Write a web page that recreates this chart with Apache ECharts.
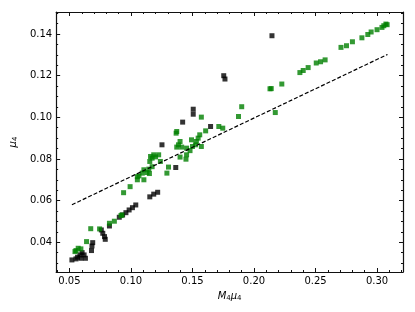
<!DOCTYPE html>
<html>
<head>
<meta charset="utf-8">
<script src="https://cdn.jsdelivr.net/npm/echarts@6/dist/echarts.min.js"></script>
<style>
html, body { margin: 0; padding: 0; background: #fff; }
#chart { width: 415px; height: 312px; }
</style>
</head>
<body>
<div id="chart"></div>
<script>
// black squares
const blackX = [0.052, 0.0566, 0.0585, 0.0603, 0.0619, 0.063, 0.0593, 0.0553, 0.0679, 0.0683, 0.0689,
    0.0759, 0.0771, 0.0785, 0.0791, 0.0825, 0.0905, 0.0932, 0.0959, 0.0985, 0.1012, 0.1039,
    0.1153, 0.1185, 0.1217, 0.1252, 0.1364, 0.142, 0.1506, 0.1506, 0.1647, 0.1754, 0.1764, 0.2146]
const blackY = [0.0315, 0.0328, 0.0339, 0.035, 0.0339, 0.0323, 0.0323, 0.032, 0.036, 0.0382, 0.0398,
    0.0459, 0.0443, 0.0427, 0.0414, 0.0478, 0.052, 0.0531, 0.0542, 0.0555, 0.0566, 0.0579,
    0.0618, 0.0631, 0.064, 0.0868, 0.0759, 0.0977, 0.1039, 0.1015, 0.0956, 0.12, 0.1184, 0.1392]

// green squares
const greenX = [0.0545, 0.0571, 0.0553, 0.0593, 0.0639, 0.0673, 0.0745, 0.0825, 0.0865, 0.0919, 0.0927,
    0.094, 0.0993, 0.1052, 0.1092, 0.1065, 0.1105, 0.1105, 0.1052, 0.1145, 0.1172, 0.1153, 0.1159,
    0.1185, 0.1225, 0.1172, 0.1239, 0.1305, 0.1292, 0.1372, 0.1367, 0.1399, 0.1386, 0.1372, 0.1412,
    0.1452, 0.1492, 0.1532, 0.1546, 0.1524, 0.1452, 0.1399, 0.1447, 0.1572, 0.1559, 0.1572, 0.1607,
    0.1714, 0.1746, 0.1874, 0.19, 0.214, 0.2173, 0.2226, 0.2373, 0.24, 0.244, 0.2506, 0.2541, 0.2578,
    0.2707, 0.2752, 0.28, 0.2877, 0.2925, 0.2952, 0.3, 0.304, 0.3072, 0.3082, 0.3055, 0.213,
    0.113, 0.115, 0.12, 0.148, 0.15]
const greenY = [0.0355, 0.0371, 0.036, 0.0368, 0.0403, 0.0465, 0.0464, 0.0491, 0.0501, 0.0528, 0.0531,
    0.0638, 0.0667, 0.0715, 0.0732, 0.0719, 0.0748, 0.07, 0.07, 0.0751, 0.0763, 0.0788, 0.0812,
    0.082, 0.082, 0.0804, 0.0788, 0.0761, 0.0732, 0.0932, 0.0924, 0.0884, 0.0868, 0.0857, 0.0857,
    0.0852, 0.0892, 0.0884, 0.09, 0.0868, 0.082, 0.0809, 0.0799, 0.086, 0.0916, 0.1001, 0.0935,
    0.0956, 0.0948, 0.1004, 0.1051, 0.1138, 0.1023, 0.116, 0.1215, 0.1225, 0.1239, 0.1261, 0.1267, 0.1276,
    0.1336, 0.1344, 0.1363, 0.1382, 0.1398, 0.141, 0.1421, 0.1432, 0.1448, 0.1445, 0.144, 0.1137,
    0.0735, 0.073, 0.081, 0.084, 0.086]

// dashed reference line
const fitX = [0.052, 0.3085]
const fitY = [0.058, 0.1302]

const xTicks = [0.05, 0.10, 0.15, 0.20, 0.25, 0.30]
const yTicks = [0.04, 0.06, 0.08, 0.10, 0.12, 0.14]
const xMinor = [0.04, 0.05, 0.06, 0.07, 0.08, 0.09, 0.10, 0.11, 0.12, 0.13, 0.14, 0.15, 0.16, 0.17,
    0.18, 0.19, 0.20, 0.21, 0.22, 0.23, 0.24, 0.25, 0.26, 0.27, 0.28, 0.29, 0.30, 0.31, 0.32]
const yMinor = [0.03, 0.035, 0.04, 0.045, 0.05, 0.055, 0.06, 0.065, 0.07, 0.075, 0.08, 0.085, 0.09,
    0.095, 0.10, 0.105, 0.11, 0.115, 0.12, 0.125, 0.13, 0.135, 0.14, 0.145, 0.15]

const X_MIN = 0.0392, X_MAX = 0.3211
const Y_MIN = 0.0257, Y_MAX = 0.1506
const FONT = 'DejaVu Sans'
const INK = '#111'

const pairs = (xs, ys) => xs.map((x, i) => [x, ys[i]])

// one axis per tick set, so major and minor ticks get their own length
function makeAxis(dim, position, ticks, len, withLabels, withLine) {
    const ax = {
        type: 'value',
        position: position,
        min: dim === 'x' ? X_MIN : Y_MIN,
        max: dim === 'x' ? X_MAX : Y_MAX,
        splitLine: { show: false },
        axisLine: { show: withLine, onZero: false, lineStyle: { color: INK, width: 1.2 } },
        axisTick: { show: true, inside: true, length: len, customValues: ticks, lineStyle: { color: INK, width: 1 } },
        axisLabel: { show: false }
    }
    if (withLabels) {
        ax.axisLabel = {
            show: true,
            customValues: ticks,
            formatter: v => v.toFixed(2),
            fontFamily: FONT,
            fontSize: 10,
            color: '#000',
            margin: 4
        }
    }
    return ax
}

const titleStyle = {
    rich: {
        i: { fontFamily: FONT, fontStyle: 'italic', fontSize: 10, color: '#000', lineHeight: 14 },
        s: { fontFamily: FONT, fontSize: 7, color: '#000', padding: [4, 0, 0, 0], lineHeight: 14 }
    }
}

const xAxes = [
    makeAxis('x', 'bottom', xTicks, 4, true, true),
    makeAxis('x', 'bottom', xMinor, 2, false, false),
    makeAxis('x', 'top', xTicks, 4, false, true),
    makeAxis('x', 'top', xMinor, 2, false, false)
]
xAxes[0].name = '{i|M}{s|4}{i|μ}{s|4}'
xAxes[0].nameLocation = 'middle'
xAxes[0].nameGap = 15
xAxes[0].nameTextStyle = titleStyle

const yAxes = [
    makeAxis('y', 'left', yTicks, 4, true, true),
    makeAxis('y', 'left', yMinor, 2, false, false),
    makeAxis('y', 'right', yTicks, 4, false, true),
    makeAxis('y', 'right', yMinor, 2, false, false)
]
yAxes[0].name = '{i|μ}{s|4}'
yAxes[0].nameLocation = 'middle'
yAxes[0].nameGap = 28
yAxes[0].nameRotate = 90
yAxes[0].nameTextStyle = titleStyle

const chart = echarts.init(document.getElementById('chart'), null, { renderer: 'canvas' })
chart.setOption({
    animation: false,
    backgroundColor: '#fff',
    grid: { left: 51, right: 12, top: 12, bottom: 40, containLabel: false },
    xAxis: xAxes,
    yAxis: yAxes,
    series: [
        {
            type: 'scatter',
            symbol: 'rect',
            symbolSize: 5,
            itemStyle: { color: '#000' },
            data: pairs(blackX, blackY)
        },
        {
            type: 'scatter',
            symbol: 'rect',
            symbolSize: 5,
            itemStyle: { color: '#008000' },
            data: pairs(greenX, greenY)
        },
        {
            type: 'line',
            symbol: 'none',
            lineStyle: { color: '#000', width: 1.2, type: [4, 2] },
            data: pairs(fitX, fitY)
        }
    ]
})
</script>
</body>
</html>
